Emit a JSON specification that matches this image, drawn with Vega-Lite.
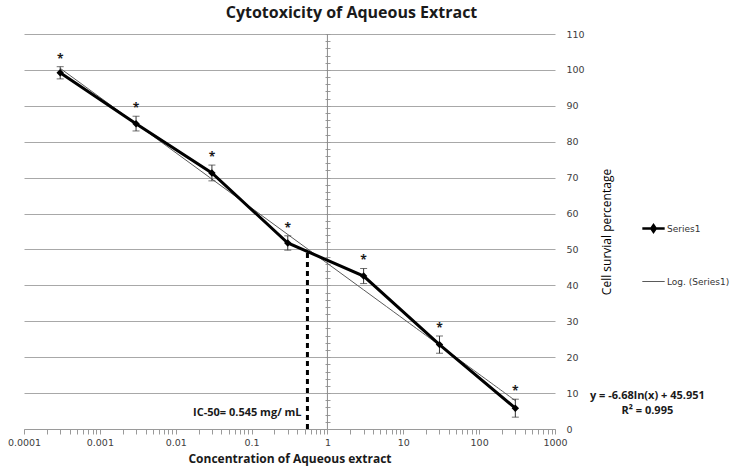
{
  "$schema": "https://vega.github.io/schema/vega-lite/v6.json",
  "width": 531,
  "height": 395,
  "autosize": "none",
  "padding": {"left": 24, "top": 34, "right": 182, "bottom": 43},
  "background": "white",
  "title": {"text": "Cytotoxicity of Aqueous Extract", "fontSize": 16, "font": "Open Sans", "fontWeight": "bold", "color": "#1a1a1a", "anchor": "middle", "dx": 62, "offset": 8},
  "config": {"view": {"stroke": null}, "font": "DejaVu Sans"},
  "datasets": {
    "pts": [
      {"conc": 0.0003, "survival": 99.2, "lo": 97.5, "hi": 100.9},
      {"conc": 0.003, "survival": 85.0, "lo": 83.0, "hi": 87.1},
      {"conc": 0.03, "survival": 71.3, "lo": 69.1, "hi": 73.5},
      {"conc": 0.3, "survival": 51.8, "lo": 49.8, "hi": 53.8},
      {"conc": 3, "survival": 42.6, "lo": 40.5, "hi": 44.7},
      {"conc": 30, "survival": 23.5, "lo": 21.1, "hi": 25.9},
      {"conc": 300, "survival": 5.8, "lo": 3.3, "hi": 8.3}
    ],
    "axisline": [{"conc": 1, "y": 0, "y2": 110}],
    "ic50": [{"conc": 0.545, "y": 0, "y2": 49.7}],
    "iclabel": [{"conc": 0.456, "y": 4.5, "t": "IC-50= 0.545 mg/ mL"}],
    "eq": [
      {"conc": 16500, "y": 9.2, "t": "y = -6.68ln(x) + 45.951"},
      {"conc": 16500, "y": 5.0, "t": "R² = 0.995"}
    ]
  },
  "layer": [
    {
      "data": {"name": "axisline"},
      "mark": {"type": "rule", "color": "#8c8c8c", "strokeWidth": 1},
      "encoding": {
        "x": {"field": "conc", "type": "quantitative", "scale": {"type": "log", "domain": [0.0001, 1000], "nice": false},
          "axis": {"values": [0.0001,0.0002,0.0003,0.0004,0.0005,0.0006,0.0007,0.0008,0.0009,0.001,0.002,0.003,0.004,0.005,0.006,0.007,0.008,0.009,0.01,0.02,0.03,0.04,0.05,0.06,0.07,0.08,0.09,0.1,0.2,0.3,0.4,0.5,0.6,0.7,0.8,0.9,1,2,3,4,5,6,7,8,9,10,20,30,40,50,60,70,80,90,100,200,300,400,500,600,700,800,900,1000],
            "format": "~g",
            "labelExpr": "abs(log(datum.value)/LN10 - round(log(datum.value)/LN10)) < 0.001 ? datum.label : ''",
            "labelOverlap": false, "labelFlush": false,
            "labelFontSize": 9.5, "labelColor": "#404040", "labelPadding": 3,
            "domainColor": "#9a9a9a", "tickColor": "#9a9a9a", "tickSize": 5, "grid": false,
            "title": "Concentration of Aqueous extract", "titleFont": "Open Sans", "titleFontSize": 12, "titleFontWeight": "bold", "titleColor": "#1a1a1a", "titlePadding": 7}},
        "y": {"field": "y", "type": "quantitative", "scale": {"domain": [0, 110], "nice": false, "zero": false},
          "axis": {"orient": "left", "offset": -306, "labels": false, "domain": false, "grid": false, "title": null,
            "values": [0,2,4,6,8,10,12,14,16,18,20,22,24,26,28,30,32,34,36,38,40,42,44,46,48,50,52,54,56,58,60,62,64,66,68,70,72,74,76,78,80,82,84,86,88,90,92,94,96,98,100,102,104,106,108,110],
            "tickSize": 5, "tickColor": "#9a9a9a", "tickWidth": 1}},
        "y2": {"field": "y2"}
      }
    },
    {
      "data": {"name": "pts"},
      "transform": [{"regression": "survival", "on": "conc", "method": "log", "extent": [0.0003, 300]}],
      "mark": {"type": "line", "strokeWidth": 1},
      "encoding": {
        "x": {"field": "conc", "type": "quantitative"},
        "y": {"field": "survival", "type": "quantitative", "axis": null},
        "color": {"datum": "Log. (Series1)"}
      }
    },
    {
      "data": {"name": "pts"},
      "mark": {"type": "line", "strokeWidth": 3},
      "encoding": {
        "x": {"field": "conc", "type": "quantitative"},
        "y": {"field": "survival", "type": "quantitative",
          "axis": {"orient": "right", "values": [0,10,20,30,40,50,60,70,80,90,100,110], "grid": true, "gridColor": "#a8a8a8", "gridWidth": 1,
            "domain": false, "ticks": false, "labelPadding": 11, "labelFontSize": 9.5, "labelColor": "#404040",
            "title": "Cell survial percentage", "titleAngle": 270, "titleFont": "Open Sans", "titleFontSize": 12, "titleFontWeight": "normal", "titleColor": "#000000", "titlePadding": 29}},
        "color": {"datum": "Series1", "scale": {"domain": ["Series1", "Log. (Series1)"], "range": ["#000000", "#5a5a5a"]},
          "legend": {"orient": "none", "legendX": 625, "legendY": 190, "title": null, "labelFontSize": 9, "labelColor": "#333333",
            "symbolType": "stroke", "symbolSize": 500, "rowPadding": 40, "labelOffset": 9,
            "encode": {"symbols": {"update": {
              "shape": {"signal": "datum.value === 'Series1' ? 'M-1,0L1,0M0,-0.3L0.2,0L0,0.3L-0.2,0Z' : 'stroke'"},
              "strokeWidth": {"signal": "datum.value === 'Series1' ? 2.5 : 1"},
              "fill": {"signal": "datum.value === 'Series1' ? '#000000' : 'transparent'"}
            }}}}}
      }
    },
    {
      "data": {"name": "pts"},
      "mark": {"type": "errorbar", "ticks": {"size": 7, "color": "#333333"}, "rule": {"color": "#333333"}, "thickness": 1},
      "encoding": {
        "x": {"field": "conc", "type": "quantitative"},
        "y": {"field": "lo", "type": "quantitative", "axis": null},
        "y2": {"field": "hi"}
      }
    },
    {
      "data": {"name": "pts"},
      "mark": {"type": "point", "shape": "diamond", "filled": true, "size": 55, "color": "#000000", "opacity": 1},
      "encoding": {
        "x": {"field": "conc", "type": "quantitative"},
        "y": {"field": "survival", "type": "quantitative", "axis": null}
      }
    },
    {
      "data": {"name": "pts"},
      "mark": {"type": "text", "text": "*", "fontSize": 12, "fontWeight": "bold", "font": "Open Sans", "baseline": "middle", "dy": -8, "color": "#1a1a1a"},
      "encoding": {
        "x": {"field": "conc", "type": "quantitative"},
        "y": {"field": "hi", "type": "quantitative", "axis": null}
      }
    },
    {
      "data": {"name": "ic50"},
      "mark": {"type": "rule", "strokeWidth": 3, "strokeDash": [5, 4], "color": "#000000"},
      "encoding": {
        "x": {"field": "conc", "type": "quantitative"},
        "y": {"field": "y", "type": "quantitative", "axis": null},
        "y2": {"field": "y2"}
      }
    },
    {
      "data": {"name": "iclabel"},
      "mark": {"type": "text", "align": "right", "baseline": "middle", "fontSize": 11, "fontWeight": "bold", "font": "Open Sans", "color": "#1a1a1a"},
      "encoding": {
        "x": {"field": "conc", "type": "quantitative"},
        "y": {"field": "y", "type": "quantitative", "axis": null},
        "text": {"field": "t"}
      }
    },
    {
      "data": {"name": "eq"},
      "mark": {"type": "text", "align": "center", "baseline": "middle", "fontSize": 11, "fontWeight": "bold", "font": "Open Sans", "color": "#1a1a1a"},
      "encoding": {
        "x": {"field": "conc", "type": "quantitative"},
        "y": {"field": "y", "type": "quantitative", "axis": null},
        "text": {"field": "t"}
      }
    }
  ],
  "resolve": {"axis": {"y": "independent"}}
}
